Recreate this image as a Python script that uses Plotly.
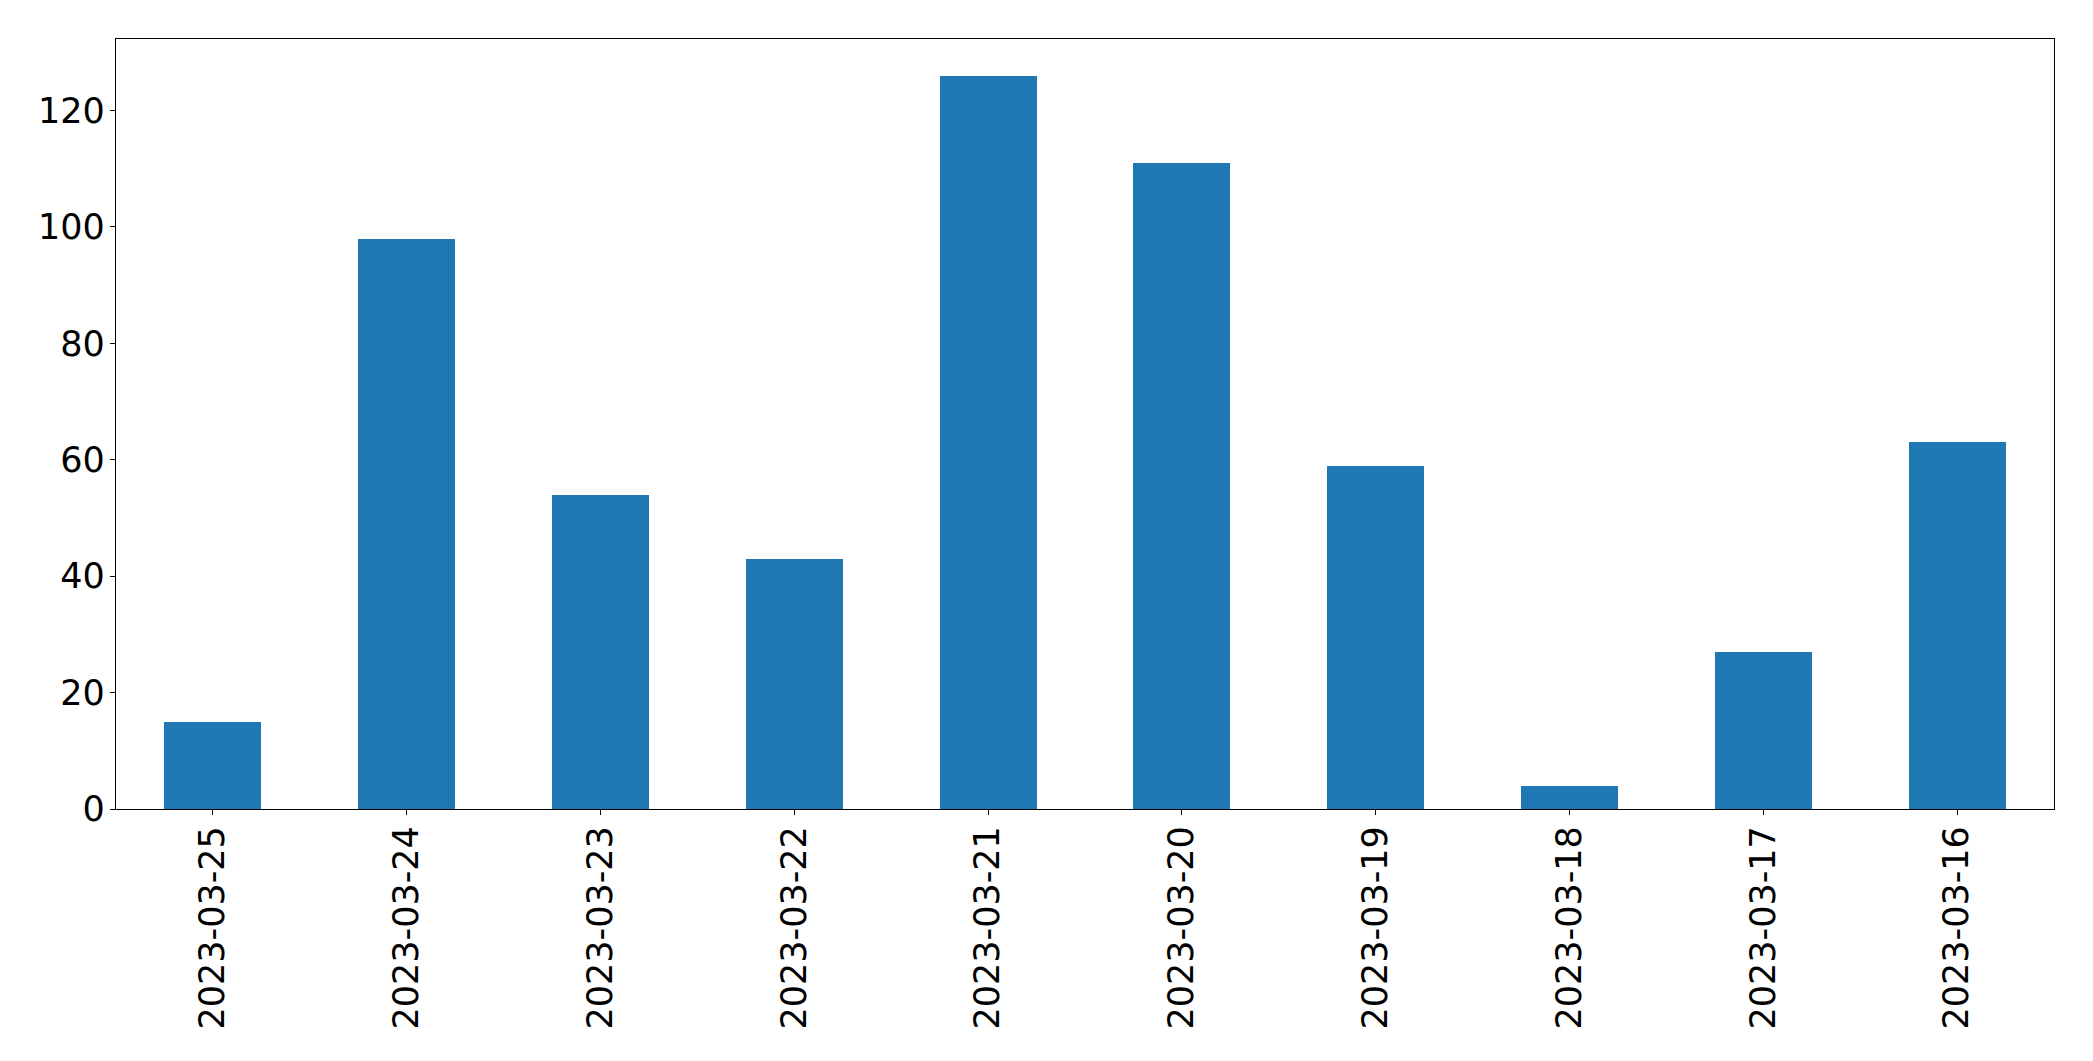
import plotly.graph_objects as go

dates = ["2023-03-25", "2023-03-24", "2023-03-23", "2023-03-22", "2023-03-21",
         "2023-03-20", "2023-03-19", "2023-03-18", "2023-03-17", "2023-03-16"]
counts = [15, 98, 54, 43, 126, 111, 59, 4, 27, 63]
y_ticks = [0, 20, 40, 60, 80, 100, 120]

fig = go.Figure()
fig.add_trace(go.Bar(x=dates, y=counts, width=0.5, marker=dict(color="#1f77b4", line=dict(width=0))))

font = dict(family="DejaVu Sans", size=35, color="black")
fig.update_layout(
    width=2093, height=1061,
    margin=dict(l=116, r=39, t=39, b=252),
    paper_bgcolor="white", plot_bgcolor="white",
    showlegend=False,
    font=font,
    bargap=0,
)
fig.update_xaxes(
    type="category", range=[-0.5, len(dates) - 0.5],
    showline=True, mirror=True, linecolor="black", linewidth=1.3,
    ticks="outside", ticklen=5, tickwidth=1.3, tickcolor="black",
    tickangle=-90, tickfont=font, showgrid=False, zeroline=False,
    ticklabelstandoff=-3,
)
fig.update_yaxes(
    range=[0, max(counts) * 1.05], tickvals=y_ticks,
    showline=True, mirror=True, linecolor="black", linewidth=1.3,
    ticks="outside", ticklen=5, tickwidth=1.3, tickcolor="black",
    tickfont=font, showgrid=False, zeroline=False,
    ticklabelstandoff=-2,
)
fig.write_html("out.html", config={"displayModeBar": False},
               post_script="document.body.style.margin='0';document.body.style.overflow='hidden';")
